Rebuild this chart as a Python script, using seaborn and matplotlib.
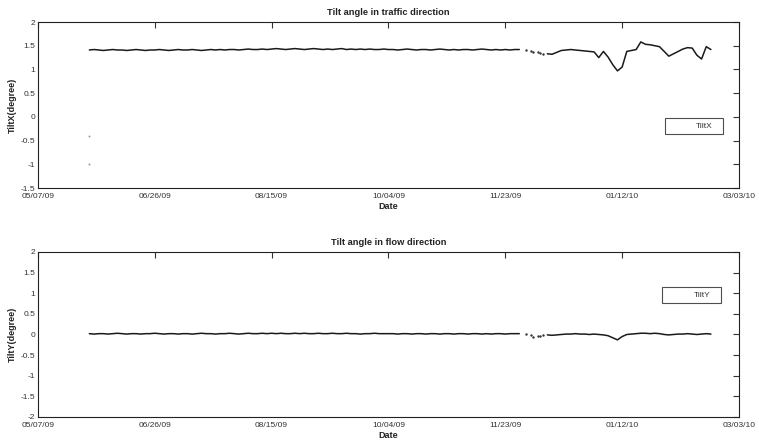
import numpy as np
import pandas as pd
import matplotlib
matplotlib.use("Agg")
import matplotlib.pyplot as plt
import matplotlib.dates as mdates
import seaborn as sns

# sample dates every 2 days, 05/29/09 .. 02/19/10
dates = pd.date_range("2009-05-29", periods=134, freq="2D")

tilt_x = [
    1.41, 1.42, 1.41, 1.40, 1.41, 1.42, 1.41, 1.41, 1.40, 1.41,
    1.42, 1.41, 1.40, 1.41, 1.41, 1.42, 1.41, 1.40, 1.41, 1.42,
    1.41, 1.41, 1.42, 1.41, 1.40, 1.41, 1.42, 1.41, 1.42, 1.41,
    1.42, 1.42, 1.41, 1.42, 1.43, 1.42, 1.42, 1.43, 1.42,
    1.43, 1.44, 1.43, 1.42, 1.43, 1.44, 1.43, 1.42, 1.43, 1.44,
    1.43, 1.42, 1.43, 1.42, 1.43, 1.44, 1.42, 1.43, 1.42, 1.43,
    1.42, 1.43, 1.42, 1.42, 1.43, 1.42,
    1.42, 1.41, 1.42, 1.43, 1.42, 1.41, 1.42, 1.42, 1.41, 1.42,
    1.43, 1.42, 1.41, 1.42, 1.41, 1.42, 1.42, 1.41, 1.42, 1.43,
    1.42, 1.41, 1.42, 1.41, 1.42, 1.41, 1.42, 1.42,
    np.nan, np.nan, np.nan, np.nan, np.nan,
    1.33, 1.32, 1.36, 1.40, 1.41, 1.42, 1.41, 1.40, 1.39, 1.38,
    1.37, 1.25, 1.38, 1.26, 1.10, 0.97, 1.05, 1.38, 1.40, 1.42,
    1.58, 1.53, 1.52, 1.50, 1.48, 1.38, 1.28, 1.33, 1.38, 1.43,
    1.46, 1.45, 1.30, 1.22, 1.48, 1.42,
]

tilt_y = [
    0.02, 0.01, 0.02, 0.02, 0.01, 0.02, 0.03, 0.02, 0.01, 0.02,
    0.02, 0.01, 0.02, 0.02, 0.03, 0.02, 0.01, 0.02, 0.02, 0.01,
    0.02, 0.02, 0.01, 0.02, 0.03, 0.02, 0.02, 0.01, 0.02, 0.02,
    0.03, 0.02, 0.01, 0.02, 0.03, 0.02, 0.02, 0.03, 0.02,
    0.03, 0.02, 0.03, 0.02, 0.02, 0.03, 0.02, 0.03, 0.02, 0.02,
    0.03, 0.02, 0.02, 0.03, 0.02, 0.02, 0.03, 0.02, 0.02, 0.01,
    0.02, 0.02, 0.03, 0.02, 0.02, 0.02,
    0.02, 0.01, 0.02, 0.02, 0.01, 0.02, 0.02, 0.01, 0.02, 0.02,
    0.01, 0.02, 0.02, 0.01, 0.02, 0.02, 0.01, 0.02, 0.02, 0.01,
    0.02, 0.01, 0.02, 0.02, 0.01, 0.02, 0.02, 0.02,
    np.nan, np.nan, np.nan, np.nan, np.nan,
    -0.01, -0.02, -0.01, 0.00, 0.01, 0.01, 0.02, 0.01, 0.01, 0.00,
    0.01, 0.00, -0.01, -0.03, -0.08, -0.13, -0.05, 0.00, 0.01, 0.02,
    0.03, 0.03, 0.02, 0.03, 0.02, 0.00, -0.01, 0.00, 0.01, 0.01,
    0.02, 0.01, 0.00, 0.01, 0.02, 0.01,
]

# scattered readings inside the data gap
gap_dates = pd.to_datetime(["2009-12-02", "2009-12-04", "2009-12-05",
                            "2009-12-07", "2009-12-08", "2009-12-09"])
gap_x = [1.41, 1.38, 1.37, 1.36, 1.34, 1.33]
gap_y = [0.00, -0.02, -0.05, -0.03, -0.04, -0.02]

# two stray points at the start of TiltX
stray_dates = pd.to_datetime(["2009-05-29", "2009-05-29"])
stray_x = [-0.4, -1.0]

tick_dates = pd.date_range("2009-05-07", periods=7, freq="50D")

df = pd.DataFrame({"Date": dates, "TiltX": tilt_x, "TiltY": tilt_y})
df["seg"] = df["TiltX"].isna().cumsum()
df = df.dropna()

sns.set_style("white")
plt.rcParams["font.family"] = ["Liberation Sans", "DejaVu Sans"]

fig = plt.figure(figsize=(7.59, 4.43), dpi=100)
ax1 = fig.add_axes([0.050, 0.5756, 0.9236, 0.3747])
ax2 = fig.add_axes([0.050, 0.0587, 0.9236, 0.3725])

line_kw = dict(estimator=None, units="seg", color="#1a1a1a", linewidth=1.1)

sns.lineplot(data=df, x="Date", y="TiltX", ax=ax1, label="TiltX", **line_kw)
sns.scatterplot(x=gap_dates, y=gap_x, ax=ax1, color="#333333", s=3, linewidth=0)
sns.scatterplot(x=stray_dates, y=stray_x, ax=ax1, color="#999999", s=2, linewidth=0)

sns.lineplot(data=df, x="Date", y="TiltY", ax=ax2, label="TiltY", **line_kw)
sns.scatterplot(x=gap_dates, y=gap_y, ax=ax2, color="#333333", s=3, linewidth=0)

setup = [
    (ax1, "Tilt angle in traffic direction", "TiltX(degree)", (-1.5, 2),
     np.arange(-1.5, 2.01, 0.5), (0.894, 0.325, 0.083, 0.095)),
    (ax2, "Tilt angle in flow direction", "TiltY(degree)", (-2, 2),
     np.arange(-2, 2.01, 0.5), (0.890, 0.69, 0.084, 0.09)),
]

for ax, title, ylab, ylim, yticks, legpos in setup:
    ax.set_xlim(tick_dates[0], tick_dates[-1])
    ax.set_xticks(tick_dates)
    ax.xaxis.set_major_formatter(mdates.DateFormatter("%m/%d/%y"))
    ax.set_ylim(*ylim)
    ax.set_yticks(yticks)
    ax.set_yticklabels([f"{v:g}" for v in yticks])
    ax.tick_params(direction="in", top=True, right=True, length=4, width=0.8,
                   labelsize=6, colors="#333333")
    ax.tick_params(axis="x", pad=3.5)
    ax.tick_params(axis="y", pad=2)
    for sp in ax.spines.values():
        sp.set_visible(True)
        sp.set_color("#222222")
        sp.set_linewidth(0.8)
    ax.set_title(title, fontsize=6.7, fontweight="bold", pad=5, color="#222222")
    ax.set_xlabel("Date", fontsize=6.5, fontweight="bold", labelpad=1.5, color="#222222")
    ax.set_ylabel(ylab, fontsize=6.5, fontweight="bold", labelpad=3, color="#222222")
    handles, labels = ax.get_legend_handles_labels()
    leg = ax.legend(handles[:1], labels[:1], loc="lower left",
                    bbox_to_anchor=legpos, mode="expand", borderaxespad=0,
                    frameon=True, fancybox=False, fontsize=6, handlelength=2.5,
                    borderpad=0.5)
    leg.get_frame().set_edgecolor("#222222")
    leg.get_frame().set_linewidth(0.8)
    for h in leg.legend_handles:
        h.set_visible(False)
    for t in leg.get_texts():
        t.set_ha("right")
        t.set_color("#333333")

fig.savefig("out.png", dpi=100)
